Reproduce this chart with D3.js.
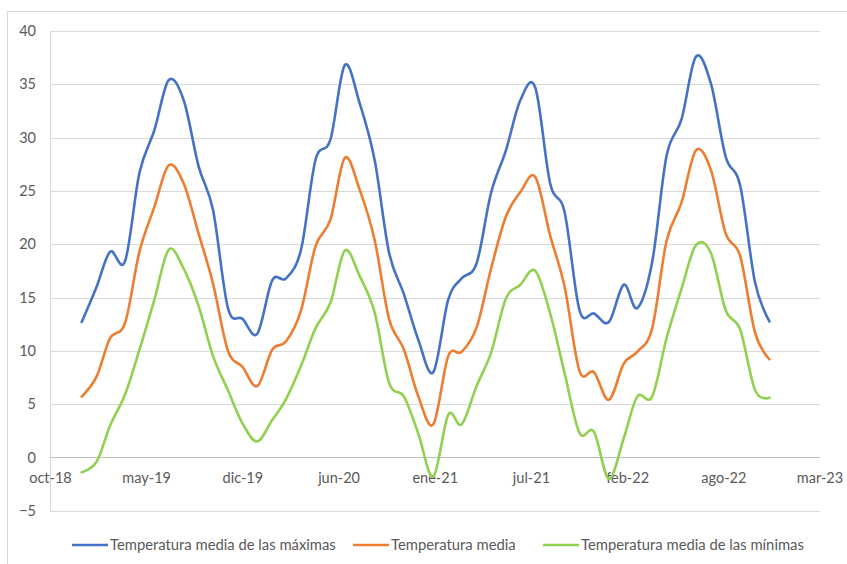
<!DOCTYPE html>
<html>
<head>
<meta charset="utf-8">
<script src="https://cdn.jsdelivr.net/npm/d3@7"></script>
<style>
  html, body { margin: 0; padding: 0; background: #ffffff; }
  svg { display: block; }
  text { font-family: Lato, "Liberation Sans", sans-serif; fill: #595959; }
</style>
</head>
<body>
<svg id="chart" width="847" height="564"></svg>
<script>
// Monthly observations, January 2019 to December 2022
const months = [
  "2019-01","2019-02","2019-03","2019-04","2019-05","2019-06","2019-07","2019-08","2019-09","2019-10","2019-11","2019-12",
  "2020-01","2020-02","2020-03","2020-04","2020-05","2020-06","2020-07","2020-08","2020-09","2020-10","2020-11","2020-12",
  "2021-01","2021-02","2021-03","2021-04","2021-05","2021-06","2021-07","2021-08","2021-09","2021-10","2021-11","2021-12",
  "2022-01","2022-02","2022-03","2022-04","2022-05","2022-06","2022-07","2022-08","2022-09","2022-10","2022-11","2022-12"
];

// Mean of daily maxima (°C)
const tempMax = [
  12.7, 16.0, 19.3, 18.4, 26.7, 30.7, 35.4, 33.5, 27.3, 23.2, 14.0, 13.0,
  11.6, 16.6, 16.8, 19.5, 27.9, 29.8, 36.8, 33.2, 27.9, 19.2, 15.3, 11.0,
   8.0, 14.8, 16.8, 18.2, 24.8, 28.8, 33.5, 34.7, 25.7, 23.0, 13.8, 13.5,
  12.7, 16.2, 14.0, 18.3, 28.3, 31.7, 37.6, 35.1, 28.2, 25.5, 16.4, 12.75
];

// Mean temperature (°C)
const tempMean = [
   5.7,  7.6, 11.2, 12.6, 19.3, 23.5, 27.4, 25.7, 21.0, 16.3, 10.0,  8.5,
   6.7, 10.1, 10.9, 13.8, 19.8, 22.3, 28.1, 25.1, 20.4, 13.0, 10.1,  5.7,
   3.1,  9.5,  9.9, 12.2, 17.7, 22.6, 24.9, 26.3, 20.8, 16.0,  8.1,  8.0,
   5.4,  8.8,  9.9, 12.1, 20.3, 23.9, 28.8, 27.0, 21.0, 18.9, 11.7,  9.2
];

// Mean of daily minima (°C)
const tempMin = [
  -1.4, -0.4,  3.0,  5.9, 10.1, 14.8, 19.5, 17.7, 14.2,  9.5,  6.3,  3.2,
   1.5,  3.5,  5.5,  8.6, 12.1, 14.5, 19.4, 17.0, 13.6,  7.0,  5.7,  2.2,
  -1.8,  4.0,  3.1,  6.7,  9.8, 14.9, 16.2, 17.5, 13.5,  7.9,  2.3,  2.4,
  -2.0,  1.8,  5.7,  5.7, 11.2, 15.8, 19.9, 19.2, 13.8, 12.0,  6.3,  5.6
];

const seriesNames = [
  "Temperatura media de las máximas",
  "Temperatura media",
  "Temperatura media de las mínimas"
];

// Category axis: start date, spacing in days, and the labels at each tick
const axisStart = "2018-10-27";
const tickStepDays = 200;
const tickLabels = ["oct-18","may-19","dic-19","jun-20","ene-21","jul-21","feb-22","ago-22","mar-23"];
const yTicks = [-5, 0, 5, 10, 15, 20, 25, 30, 35, 40];

const colors = ["#4472C4", "#ED7D31", "#92D050"];

const svg = d3.select("#chart");

// outer chart border
svg.append("rect")
  .attr("x", 7.5).attr("y", 11.5)
  .attr("width", 860).attr("height", 570)
  .attr("fill", "none").attr("stroke", "#D9D9D9").attr("stroke-width", 1);

const parseMonth = d3.utcParse("%Y-%m");
const start = d3.utcParse("%Y-%m-%d")(axisStart);
const tickDates = tickLabels.map((_, i) => d3.utcDay.offset(start, i * tickStepDays));

const x = d3.scaleUtc()
  .domain([tickDates[0], tickDates[tickDates.length - 1]])
  .range([50, 819.5]);

const y = d3.scaleLinear()
  .domain([d3.min(yTicks), d3.max(yTicks)])
  .range([510.7, 31]);

// horizontal gridlines
svg.append("g")
  .selectAll("line")
  .data(yTicks)
  .join("line")
  .attr("x1", 50).attr("x2", 819.5)
  .attr("y1", d => Math.round(y(d)) + 0.5)
  .attr("y2", d => Math.round(y(d)) + 0.5)
  .attr("stroke", "#D9D9D9")
  .attr("stroke-width", 1);

// vertical axis line
svg.append("line")
  .attr("x1", 50.5).attr("x2", 50.5)
  .attr("y1", Math.round(y(40)) + 0.5).attr("y2", Math.round(y(-5)) + 0.5)
  .attr("stroke", "#D9D9D9");

// horizontal axis line at zero
svg.append("line")
  .attr("x1", 50).attr("x2", 819.5)
  .attr("y1", Math.round(y(0)) + 0.5).attr("y2", Math.round(y(0)) + 0.5)
  .attr("stroke", "#BFBFBF");

// y axis labels
const yAxis = d3.axisLeft(y).tickValues(yTicks).tickSize(0).tickPadding(14).tickFormat(d3.format("d"));
const gy = svg.append("g").attr("transform", "translate(50,0)").call(yAxis);
gy.select(".domain").remove();
gy.selectAll("text").style("font-size", "14.5px").attr("fill", "#595959");

// x axis labels, placed just under the zero line
const xAxis = d3.axisBottom(x).tickValues(tickDates).tickSize(0).tickPadding(14)
  .tickFormat((d, i) => tickLabels[i]);
const gx = svg.append("g").attr("transform", `translate(0,${y(0)})`).call(xAxis);
gx.select(".domain").remove();
gx.selectAll("text").style("font-size", "14.5px").attr("fill", "#595959").attr("dy", "0.32em").attr("y", 21);

// series
const dates = months.map(parseMonth);
const seriesValues = [tempMax, tempMean, tempMin];

const line = d3.line()
  .x((d, i) => x(dates[i]))
  .y(d => y(d))
  .curve(d3.curveCardinal.tension(0));

svg.append("g")
  .selectAll("path")
  .data(seriesValues)
  .join("path")
  .attr("d", d => line(d))
  .attr("fill", "none")
  .attr("stroke", (d, i) => colors[i])
  .attr("stroke-width", 2.6)
  .attr("stroke-linejoin", "round")
  .attr("stroke-linecap", "round");

// legend
const legendX = [72, 353, 543];
const legendY = 545;
const lg = svg.append("g")
  .selectAll("g")
  .data(seriesNames)
  .join("g")
  .attr("transform", (d, i) => `translate(${legendX[i]},${legendY})`);
lg.append("line")
  .attr("x1", 0).attr("x2", 36).attr("y1", 0).attr("y2", 0)
  .attr("stroke", (d, i) => colors[i]).attr("stroke-width", 2.6);
lg.append("text")
  .attr("x", 38).attr("y", 0).attr("dy", "0.35em")
  .style("font-size", "14.8px")
  .text(d => d);
</script>
</body>
</html>
